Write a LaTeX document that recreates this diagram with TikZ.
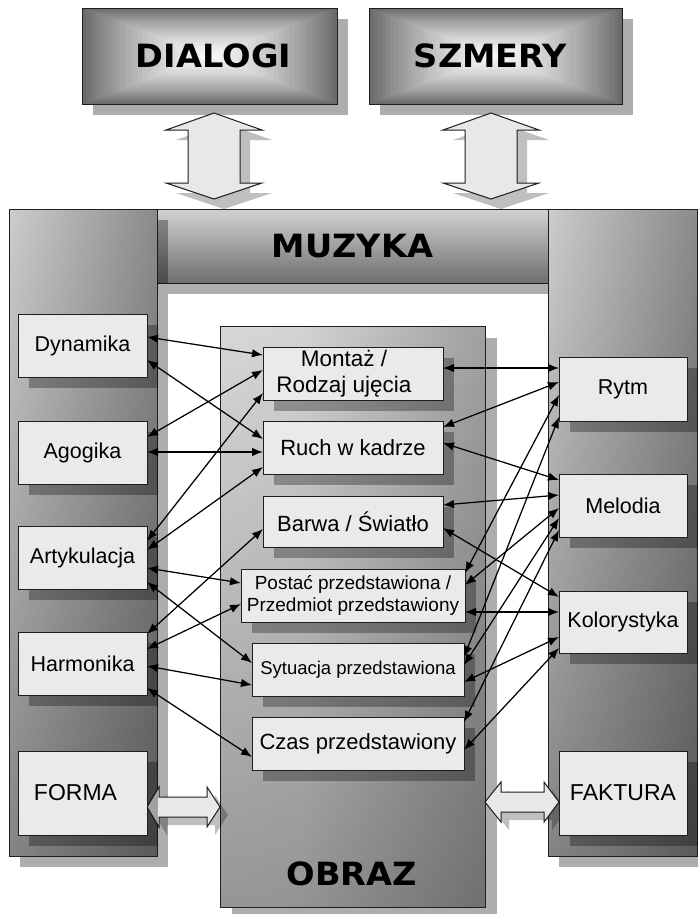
\documentclass[tikz,border=0pt]{standalone}
\usepackage{fontspec}
\setmainfont{Liberation Sans}
\newfontfamily\heavy{DejaVu Sans}
\usetikzlibrary{arrows.meta,calc,shadows,fadings}

\definecolor{edge}{HTML}{1E1E1E}
\definecolor{boxfill}{HTML}{EAEAEA}
\definecolor{arrfill}{HTML}{E8E8E8}
\definecolor{cA}{HTML}{C4C4C4}
\definecolor{cB}{HTML}{DEDEDE}
\definecolor{cC}{HTML}{6A6A6A}
\definecolor{oA}{HTML}{DEDEDE}
\definecolor{oB}{HTML}{D4D4D4}
\definecolor{oC}{HTML}{7C7C7C}
\definecolor{barTop}{HTML}{D2D2D2}
\definecolor{barBot}{HTML}{6E6E6E}

\pgfdeclarehorizontalshading{colsh}{100bp}{color(0bp)=(cA); color(12bp)=(cB); color(100bp)=(cC)}
\pgfdeclarehorizontalshading{obrsh}{100bp}{color(0bp)=(oA); color(40bp)=(oB); color(100bp)=(oC)}

\newcommand{\fs}[2]{\fontsize{#1}{#2}\selectfont}

\tikzset{
  every node/.style={inner sep=0pt, outer sep=0pt},
  sh/.style={fill=black, opacity=0.32},
  ash/.style={fill=black, opacity=0.25},
  cbox/.style={draw=edge, line width=1pt, fill=boxfill, anchor=north west, align=center,
    drop shadow={shadow xshift=11pt, shadow yshift=-11pt, fill=black, opacity=0.3}},
  frame/.style={draw=edge, line width=1pt, anchor=north west},
  bi/.style={<->, >={Latex[length=11pt,width=8.5pt]}, line width=1.25pt, draw=black},
  blk/.style={fill=arrfill, draw=edge, line width=1pt, line join=miter},
  bigt/.style={font=\heavy\bfseries\fs{32}{36}},
}

% rectangular (path) gradient, dark edges to light centre
\newcommand{\rectgrad}[4]{%
  \foreach \i in {0,...,29}{%
    \pgfmathsetmacro{\rgt}{\i/30}%
    \pgfmathsetmacro{\rgl}{0.42+0.56*(1.5*\rgt-0.5*\rgt*\rgt)}%
    \definecolor{gtmp}{gray}{\rgl}%
    \fill[gtmp] ({#1+\rgt*(#3-#1)/2},{#2+\rgt*(#4-#2)/2}) rectangle ({#3-\rgt*(#3-#1)/2},{#4-\rgt*(#4-#2)/2});
  }%
}
% vertical double block arrow centred at x=#1
\newcommand{\vblk}[2]{\path[#2] (#1,113) -- (#1+48,130) -- (#1+26,130) -- (#1+26,183) -- (#1+48,183) -- (#1,199) -- (#1-48,183) -- (#1-26,183) -- (#1-26,130) -- (#1-48,130) -- cycle;}
% horizontal double block arrow: cy, xl, xhl, xhr, xr
\newcommand{\hblk}[6]{\path[#6] (#2,#1) -- (#3,#1-20) -- (#3,#1-10) -- (#4,#1-10) -- (#4,#1-20) -- (#5,#1) -- (#4,#1+20) -- (#4,#1+10) -- (#3,#1+10) -- (#3,#1+20) -- cycle;}
\newcommand{\conn}[4]{\draw[bi] ($(#1.north east)+(0,#2)$) -- ($(#3.north west)+(0,#4)$);}

\begin{document}
\begin{tikzpicture}[x=1pt,y=-1pt]
\useasboundingbox (0,0) rectangle (698,914);
\fill[white] (0,0) rectangle (698,914);

% ---- top boxes
\fill[sh] (93,19) rectangle (348,115);
\rectgrad{82}{8}{337}{104}
\node[frame, minimum width=255pt, minimum height=96pt, bigt] (dialogi) at (82,8) {\hspace*{8pt}\scalebox{1.05}[1]{DIALOGI}};
\fill[sh] (380,19) rectangle (633,115);
\rectgrad{369}{8}{622}{104}
\node[frame, minimum width=253pt, minimum height=96pt, bigt] (szmery) at (369,8) {\scalebox{1.05}[1]{SZMERY}\hspace*{10pt}};

% ---- vertical block arrows
\vblk{214}{ash, xshift=10pt, yshift=-10pt}
\vblk{214}{blk}
\vblk{491}{ash, xshift=10pt, yshift=-10pt}
\vblk{491}{blk}

% ---- MUZYKA frame
\fill[sh] (168,220) rectangle (559,294);
\shade[top color=barTop, bottom color=barBot] (157,209) rectangle (548,283);
\node[frame, minimum width=391pt, minimum height=74pt, bigt] (muzyka) at (157,209) {\scalebox{1.05}[1]{MUZYKA}};

\fill[sh] (559,220) rectangle (710,867);
\shade[shading=colsh] (548,209) rectangle (697,856);
\fill[black, fill opacity=0.35, path fading=north] (548,209) rectangle (697,856);
\node[frame, minimum width=149pt, minimum height=647pt] (muzR) at (548,209) {};

\fill[sh] (20,220) rectangle (168,867);
\shade[shading=colsh] (9,209) rectangle (157,856);
\fill[black, fill opacity=0.35, path fading=north] (9,209) rectangle (157,856);
\node[frame, minimum width=148pt, minimum height=647pt] (muzL) at (9,209) {};

% ---- OBRAZ box
\fill[sh] (232,338) rectangle (497,919);
\shade[shading=obrsh] (220,326) rectangle (485,907);
\fill[black, fill opacity=0.3, path fading=north] (220,326) rectangle (485,907);
\node[frame, minimum width=265pt, minimum height=581pt] (obraz) at (220,326) {};
\node[bigt] (obrazt) at (352,874) {\scalebox{1.05}[1]{OBRAZ}};

% ---- horizontal block arrows
\hblk{807}{147}{159}{207}{220}{ash, xshift=8pt, yshift=-8pt}
\hblk{807}{147}{159}{207}{220}{blk}
\hblk{802}{485}{501}{544}{559}{ash, xshift=8pt, yshift=-8pt}
\hblk{802}{485}{501}{544}{559}{blk}

% ---- left boxes
\node[cbox, minimum width=129pt, minimum height=63pt, font=\fs{21.5}{25}] (dyn) at (18,314) {Dynamika};
\node[cbox, minimum width=129pt, minimum height=63pt, font=\fs{21.5}{25}] (ago) at (18,421) {Agogika};
\node[cbox, minimum width=129pt, minimum height=63pt, font=\fs{21.5}{25}] (art) at (18,526) {Artykulacja};
\node[cbox, minimum width=129pt, minimum height=63pt, font=\fs{21.5}{25}] (har) at (18,632) {Harmonika};
\node[cbox, minimum width=129pt, minimum height=84pt, font=\fs{23}{26}] (forma) at (18,751) {FORMA\hspace*{14pt}};

% ---- right boxes
\node[cbox, minimum width=128pt, minimum height=64pt, font=\fs{21.5}{25}] (rytm) at (559,357) {Rytm};
\node[cbox, minimum width=128pt, minimum height=63pt, font=\fs{21.5}{25}] (mel) at (559,474) {Melodia};
\node[cbox, minimum width=128pt, minimum height=62pt, font=\fs{21.5}{25}] (kol) at (559,591) {Kolorystyka};
\node[cbox, minimum width=128pt, minimum height=84pt, font=\fs{23}{26}] (fak) at (559,751) {FAKTURA};

% ---- centre boxes
\node[cbox, minimum width=180pt, minimum height=53pt, font=\fs{22.5}{26}] (mon) at (263,347) {Montaż /\hspace*{18pt}\\Rodzaj ujęcia\hspace*{18pt}};
\node[cbox, minimum width=180pt, minimum height=53pt, font=\fs{22}{25}] (ruch) at (263,421) {Ruch w kadrze};
\node[cbox, minimum width=180pt, minimum height=51pt, font=\fs{22}{25}] (barwa) at (263,496) {Barwa / Światło};
\node[cbox, minimum width=224pt, minimum height=53pt, font=\fs{19}{22}] (postac) at (241,569) {Postać przedstawiona /\\Przedmiot przedstawiony};
\node[cbox, minimum width=212pt, minimum height=53pt, font=\fs{18.5}{22}] (syt) at (252,643) {Sytuacja przedstawiona};
\node[cbox, minimum width=212pt, minimum height=53pt, font=\fs{22}{25}] (czas) at (252,717) {Czas przedstawiony};

% ---- connectors: music side (left)
\conn{dyn}{23}{mon}{8}
\conn{dyn}{46}{ruch}{18}
\conn{ago}{16}{mon}{23}
\conn{ago}{31}{ruch}{31}
\conn{art}{15}{mon}{46}
\conn{art}{24}{ruch}{46}
\conn{art}{42}{postac}{14}
\conn{art}{56}{syt}{20}
\conn{har}{2}{barwa}{33}
\conn{har}{17}{postac}{35}
\conn{har}{34}{syt}{42}
\conn{har}{56}{czas}{40}
% ---- connectors: right side
\conn{mon}{21}{rytm}{11}
\conn{ruch}{6}{rytm}{25}
\conn{ruch}{22}{mel}{6}
\conn{barwa}{9}{mel}{21}
\conn{barwa}{32}{kol}{6}
\conn{postac}{43}{kol}{21}
\conn{postac}{4}{rytm}{38}
\conn{postac}{16}{mel}{34}
\conn{syt}{14}{rytm}{60}
\conn{syt}{22}{mel}{44}
\conn{syt}{39}{kol}{46}
\conn{czas}{5}{mel}{56}
\conn{czas}{33}{kol}{57}
\end{tikzpicture}
\end{document}
